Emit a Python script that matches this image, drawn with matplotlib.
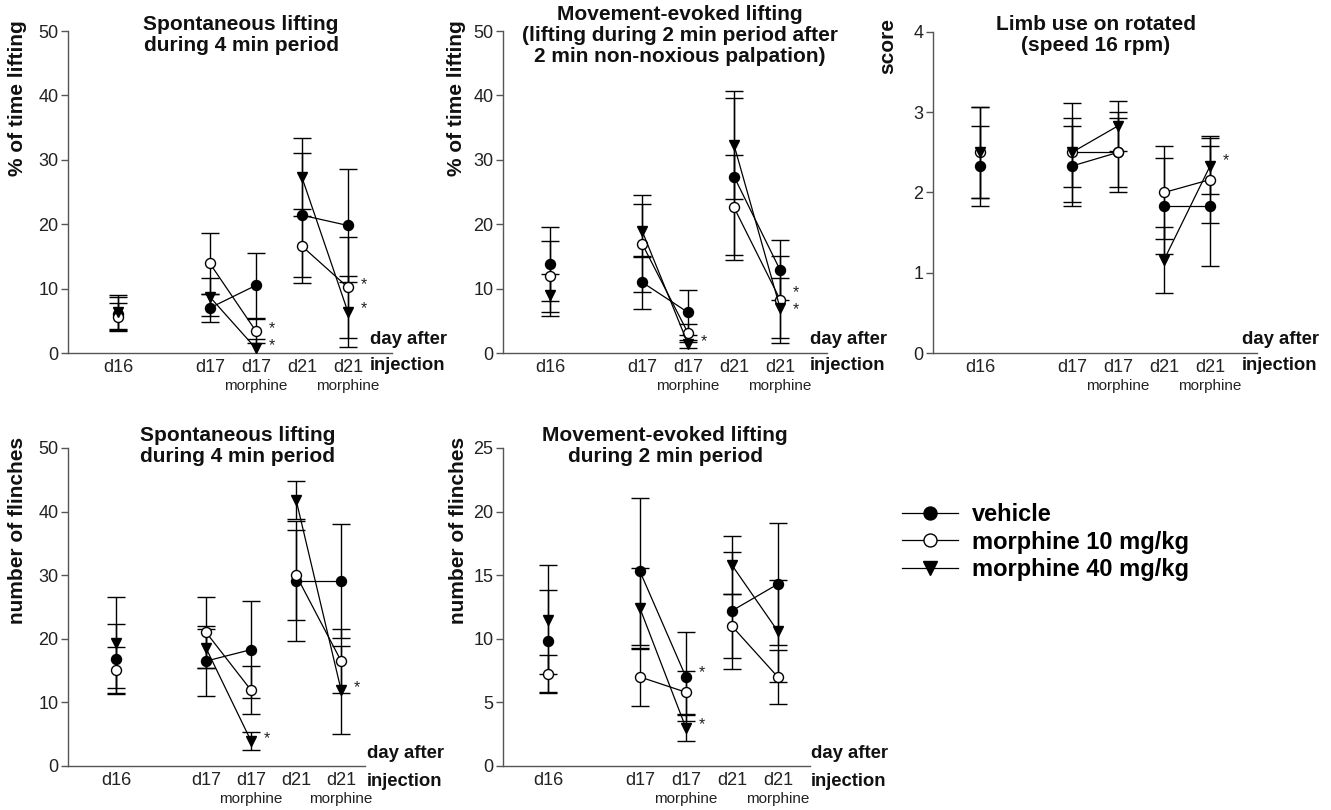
import numpy as np
import matplotlib.pyplot as plt

plt.rcParams['font.family'] = ['Liberation Sans', 'DejaVu Sans']

# x positions: d16, d17, d17 morphine, d21, d21 morphine
x = np.array([0, 2, 3, 4, 5])
tick_labels = ['d16', 'd17', 'd17', 'd21', 'd21']
series_names = ['vehicle', 'morphine 10 mg/kg', 'morphine 40 mg/kg']

# panel 1: spontaneous lifting, % of time
p1_vehicle = [6.1, 7.0, 10.5, 21.4, 19.8]
p1_vehicle_err = [2.6, 2.2, 5.0, 9.6, 8.7]
p1_m10 = [5.6, 13.9, 3.4, 16.6, 10.2]
p1_m10_err = [2.2, 4.7, 1.9, 5.8, 7.8]
p1_m40 = [6.4, 8.7, 0.7, 27.3, 6.4]
p1_m40_err = [2.6, 3.0, 1.4, 6.1, 5.5]

# panel 2: movement-evoked lifting, % of time
p2_vehicle = [13.8, 11.0, 6.3, 27.4, 12.9]
p2_vehicle_err = [5.7, 4.1, 3.5, 12.2, 4.7]
p2_m10 = [11.9, 17.0, 3.1, 22.6, 8.3]
p2_m10_err = [5.5, 7.6, 1.4, 8.1, 6.8]
p2_m40 = [9.0, 19.0, 1.4, 32.3, 7.0]
p2_m40_err = [3.3, 4.1, 0.6, 8.4, 4.7]

# panel 3: limb use score
p3_vehicle = [2.33, 2.33, 2.5, 1.83, 1.83]
p3_vehicle_err = [0.5, 0.5, 0.5, 0.6, 0.75]
p3_m10 = [2.5, 2.5, 2.5, 2.0, 2.16]
p3_m10_err = [0.57, 0.43, 0.43, 0.58, 0.54]
p3_m40 = [2.5, 2.5, 2.83, 1.16, 2.33]
p3_m40_err = [0.57, 0.62, 0.31, 0.41, 0.35]

# panel 4: spontaneous flinches
p4_vehicle = [16.8, 16.5, 18.3, 29.1, 29.1]
p4_vehicle_err = [5.5, 5.5, 7.6, 9.4, 8.9]
p4_m10 = [15.1, 21.0, 11.9, 30.0, 16.5]
p4_m10_err = [3.6, 5.6, 3.8, 7.1, 5.0]
p4_m40 = [19.4, 18.5, 3.9, 41.8, 11.9]
p4_m40_err = [7.2, 3.1, 1.4, 3.0, 6.9]

# panel 5: movement-evoked flinches
p5_vehicle = [9.8, 15.3, 7.0, 12.2, 14.3]
p5_vehicle_err = [4.0, 5.8, 3.5, 4.6, 4.8]
p5_m10 = [7.2, 7.0, 5.8, 11.0, 7.0]
p5_m10_err = [1.5, 2.3, 1.7, 2.5, 2.1]
p5_m40 = [11.5, 12.4, 3.0, 15.8, 10.6]
p5_m40_err = [4.3, 3.2, 1.0, 2.3, 4.0]

titles = ['Spontaneous lifting\nduring 4 min period',
          'Movement-evoked lifting\n(lifting during 2 min period after\n2 min non-noxious palpation)',
          'Limb use on rotated\n(speed 16 rpm)',
          'Spontaneous lifting\nduring 4 min period',
          'Movement-evoked lifting\nduring 2 min period']
ylabels = ['% of time lifting', '% of time lifting', 'score',
           'number of flinches', 'number of flinches']
yticks = [np.arange(0, 51, 10), np.arange(0, 51, 10), np.arange(0, 5, 1),
          np.arange(0, 51, 10), np.arange(0, 26, 5)]

# significance stars: (series index, point index, vertical nudge in points)
stars = [[(1, 2, 2), (2, 2, 2), (1, 4, 2), (2, 4, 2)],
         [(2, 2, 2), (1, 4, 5), (2, 4, -1)],
         [(2, 4, 4)],
         [(2, 2, 2), (2, 4, 2)],
         [(0, 2, 3), (2, 2, 2)]]

values = [[p1_vehicle, p1_m10, p1_m40], [p2_vehicle, p2_m10, p2_m40],
          [p3_vehicle, p3_m10, p3_m40], [p4_vehicle, p4_m10, p4_m40],
          [p5_vehicle, p5_m10, p5_m40]]
errors = [[p1_vehicle_err, p1_m10_err, p1_m40_err],
          [p2_vehicle_err, p2_m10_err, p2_m40_err],
          [p3_vehicle_err, p3_m10_err, p3_m40_err],
          [p4_vehicle_err, p4_m10_err, p4_m40_err],
          [p5_vehicle_err, p5_m10_err, p5_m40_err]]

W, H = 1331, 810
fig = plt.figure(figsize=(W / 100, H / 100), dpi=100)

# axes boxes in pixels: left, right, top, bottom
boxes = [(68, 392, 31, 353), (503, 827, 31, 353), (933, 1257, 32, 353),
         (68, 365, 448, 766), (503, 810, 448, 766)]
xlims = [(-1.087, 5.96), (-1.02, 6.02), (-1.02, 6.02), (-1.07, 5.53), (-0.98, 5.7)]
title_pos = [(241, 15), (680, 5), (1096, 15), (238, 426), (665, 426)]
ylabel_pos = [(18, 20), (457, 20), (888, 18), (18, 437), (458, 437)]
dayafter_pos = [(370, 340, 366), (810, 340, 366), (1242, 340, 366),
                (367, 753, 781), (811, 753, 781)]

markers = [dict(marker='o', mfc='black', ms=7.2),
           dict(marker='o', mfc='white', ms=7.2),
           dict(marker='v', mfc='black', ms=7.8)]
axis_col = '#555555'
handles = []

for k in range(5):
    l, r, t, b = boxes[k]
    ax = fig.add_axes([l / W, 1 - b / H, (r - l) / W, (b - t) / H])
    yt = yticks[k]
    for s in range(3):
        v = np.array(values[k][s])
        e = np.array(errors[k][s])
        ax.errorbar(x, v, yerr=e, fmt='none', ecolor='black', elinewidth=1,
                    capsize=6.5, capthick=1, zorder=2)
        for seg in ([0], [1, 2], [3, 4]):
            h, = ax.plot(x[seg], v[seg], color='black', lw=0.9, mec='black',
                         mew=1, zorder=3 + s, **markers[s])
        if k == 0:
            h.set_label(series_names[s])
            handles.append(h)
    for s, i, dy in stars[k]:
        ax.annotate('*', xy=(x[i], values[k][s][i]), xytext=(9, dy),
                    textcoords='offset points', fontsize=11.5, ha='left',
                    va='center', color='#222222')
    ax.set_xlim(*xlims[k])
    ax.set_ylim(yt[0], yt[-1])
    ax.set_yticks(yt)
    ax.set_xticks(x)
    ax.set_xticklabels(tick_labels)
    for sp in ['top', 'right']:
        ax.spines[sp].set_visible(False)
    for sp in ['left', 'bottom']:
        ax.spines[sp].set_color(axis_col)
        ax.spines[sp].set_linewidth(1)
    ax.tick_params(axis='x', length=0, pad=4, labelsize=13, labelcolor='#222222')
    ax.tick_params(axis='y', length=5, width=1, color=axis_col, pad=2,
                   labelsize=13, labelcolor='#222222')
    for xi in (3, 5):
        ax.annotate('morphine', xy=(xi, 0), xycoords=('data', 'axes fraction'),
                    xytext=(0, -24), textcoords='offset points', ha='center',
                    va='center', fontsize=11, color='#222222')
    tx, ty = title_pos[k]
    fig.text(tx / W, 1 - ty / H, titles[k], ha='center', va='top',
             fontsize=15, fontweight='bold', linespacing=1.12, color='#111111')
    lx, ly = ylabel_pos[k]
    fig.text(lx / W, 1 - ly / H, ylabels[k], rotation=90, ha='center', va='top',
             fontsize=15, fontweight='bold', color='#111111')
    dx, dy1, dy2 = dayafter_pos[k]
    fig.text(dx / W, 1 - dy1 / H, 'day after', ha='left', va='center',
             fontsize=13.3, fontweight='bold', color='#111111')
    fig.text(dx / W, 1 - dy2 / H, 'injection', ha='left', va='center',
             fontsize=13.3, fontweight='bold', color='#111111')

fig.legend(handles=handles, loc='upper left', bbox_to_anchor=(902 / W, 1 - 503 / H),
           frameon=False, borderpad=0, borderaxespad=0, handlelength=2.37,
           handletextpad=0.6, labelspacing=0.2, markerscale=1.3,
           prop=dict(size=17, weight='bold'))

fig.savefig('out.png', dpi=100)
